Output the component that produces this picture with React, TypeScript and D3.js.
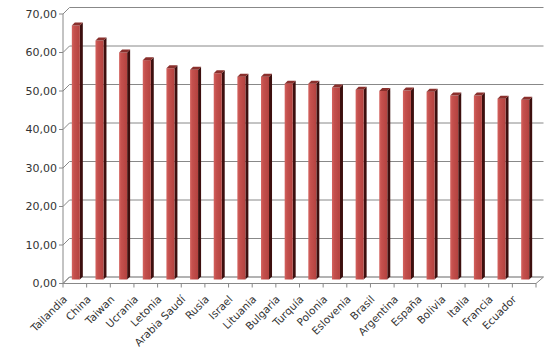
import React from "react";
import * as d3 from "d3";

const categories = ["Tailandia","China","Taiwan","Ucrania","Letonia","Arabia Saudí","Rusia","Israel","Lituania","Bulgaria","Turquía","Polonia","Eslovenia","Brasil","Argentina","España","Bolivia","Italia","Francia","Ecuador"];
const values = [66.1,62.2,59.1,57.1,55.0,54.6,53.7,52.8,52.8,51.0,51.0,50.0,49.4,49.1,49.2,48.9,47.9,47.9,47.1,46.8];
const yTicks = [0,10,20,30,40,50,60,70];
const fmt = (v: number) => v.toFixed(2).replace(".", ",");

export default function App() {
  const W = 560, H = 358;
  const left = 63, right = 536;
  const dx = 6.5;
  const yFront = d3.scaleLinear().domain([0, 70]).range([283.5, 14]);
  const yBack = d3.scaleLinear().domain([0, 70]).range([277, 7.5]);
  const x = d3.scaleBand().domain(categories).range([left, right]).padding(0);
  const bw = x.bandwidth();
  const fontFam = "'DejaVu Sans', Verdana, sans-serif";
  const barBottom = 279.5;
  const depth = 3;
  return (
    <svg width={W} height={H} style={{ position: "absolute", left: 0, top: 0, background: "#fff" }}>
      <defs>
        <linearGradient id="front" x1="0" x2="1" y1="0" y2="0">
          <stop offset="0" stopColor="#d4635f" />
          <stop offset="0.3" stopColor="#c4504d" />
          <stop offset="1" stopColor="#b4423f" />
        </linearGradient>
      </defs>
      {yTicks.map((t) => (
        <g key={t}>
          <line x1={left + dx} x2={right + dx + 1} y1={yBack(t)} y2={yBack(t)} stroke={t === 0 ? "#666" : "#888"} strokeWidth={1} />
          <line x1={left} y1={yFront(t)} x2={left + dx} y2={yBack(t)} stroke="#888" />
          <line x1={left - 4} x2={left} y1={yFront(t)} y2={yFront(t)} stroke="#888" />
          <text x={57} y={yFront(t)} dy="0.35em" textAnchor="end" fontSize={11} fontFamily={fontFam} fill="#333">{fmt(t)}</text>
        </g>
      ))}
      <line x1={left} x2={left} y1={yFront(70)} y2={yFront(0)} stroke="#888" />
      {categories.map((c, i) => {
        const cx = (x(c) as number) + bw / 2;
        const x0 = cx - 3, x1 = cx + 5;
        const yt = yBack(values[i]) + depth;
        return (
          <g key={c}>
            <polygon points={`${x1},${yt} ${x1 + depth},${yt - depth} ${x1 + depth},${barBottom - depth} ${x1},${barBottom}`} fill="#3d0f0e" />
            <rect x={x0} y={yt} width={x1 - x0} height={barBottom - yt} fill="url(#front)" />
            <polygon points={`${x0},${yt} ${x1},${yt} ${x1 + depth},${yt - depth} ${x0 + depth},${yt - depth}`} fill="#8a302d" />
          </g>
        );
      })}
      <line x1={left} x2={right} y1={yFront(0)} y2={yFront(0)} stroke="#888" />
      <line x1={right} y1={yFront(0)} x2={right + dx + 1} y2={yBack(0)} stroke="#888" />
      <line x1={left} y1={yFront(0)} x2={left + dx} y2={yBack(0)} stroke="#888" />
      {d3.range(categories.length + 1).map((k) => {
        const xx = left + k * bw;
        return <line key={k} x1={xx} x2={xx} y1={yFront(0)} y2={yFront(0) + 4} stroke="#888" />;
      })}
      {categories.map((c) => {
        const cx = (x(c) as number) + bw / 2;
        return (
          <text key={c} transform={`translate(${cx - 7},${300}) rotate(-45)`} textAnchor="end" fontSize={10.5} fontFamily={fontFam} fill="#333">{c}</text>
        );
      })}
    </svg>
  );
}
